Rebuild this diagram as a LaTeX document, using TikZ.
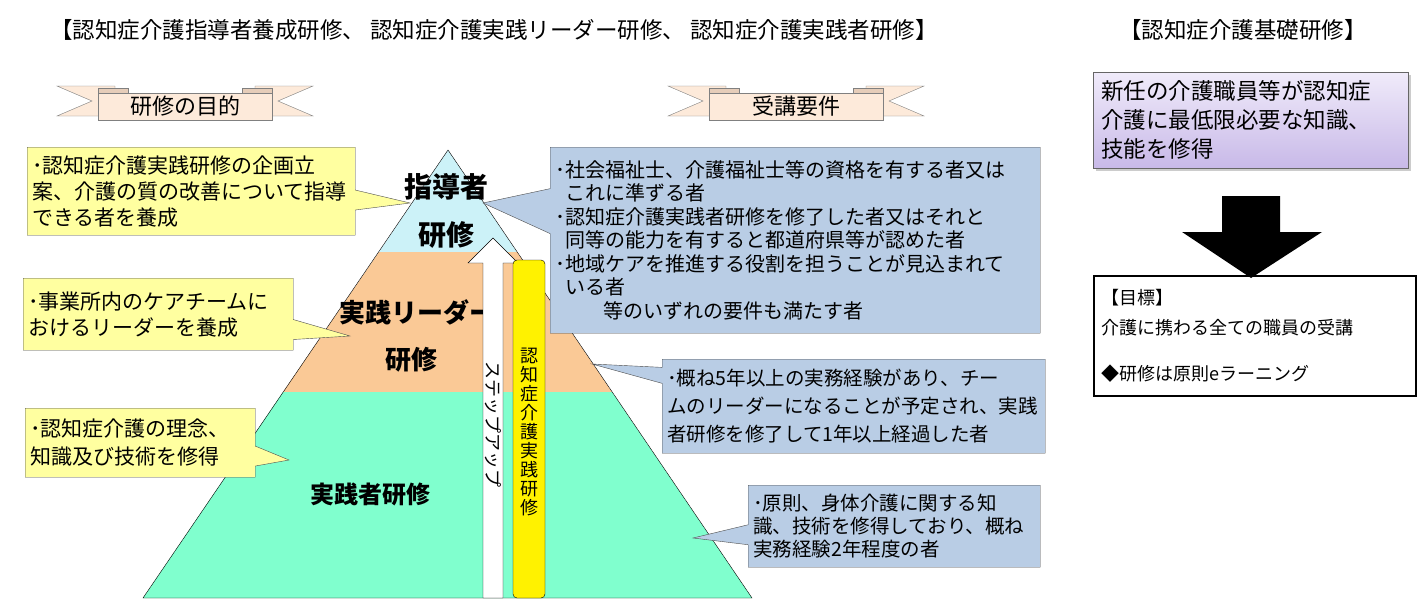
\documentclass[tikz,border=0pt]{standalone}
\usepackage{fontspec}
\setmainfont{Noto Sans CJK JP}
\usepackage{xcolor}
\usepackage{tikz}
\usetikzlibrary{shapes.callouts,shadows}

\definecolor{tiertop}{RGB}{204,242,248}
\definecolor{tiermid}{RGB}{250,201,150}
\definecolor{tierbase}{RGB}{128,255,206}
\definecolor{callyel}{RGB}{255,255,160}
\definecolor{callblue}{RGB}{185,205,229}
\definecolor{ribbonfill}{RGB}{253,234,218}
\definecolor{ribbonfold}{RGB}{230,205,185}
\definecolor{lavtop}{RGB}{240,235,250}
\definecolor{lavbot}{RGB}{200,185,232}

\begin{document}
\begin{tikzpicture}[x=1pt, y=-1pt,
    ycall/.style={rectangle callout, draw=black!70, fill=callyel, anchor=north west,
      align=left, inner sep=5pt, callout pointer width=20pt},
    bcall/.style={rectangle callout, draw=black!70, fill=callblue, anchor=north west,
      align=left, inner sep=5pt, callout pointer width=20pt},
    tier/.style={font=\bfseries\fontsize{27}{30}\selectfont}]
  \fill[white] (0,0) rectangle (1419,610);
  \useasboundingbox (0,0) rectangle (1419,610);

  % titles
  \node[font=\fontsize{22.5}{26}\selectfont] (title) at (494,30)
    {【認知症介護指導者養成研修、 認知症介護実践リーダー研修、 認知症介護実践者研修】};
  \node[font=\fontsize{22.5}{26}\selectfont] (basetitle) at (1243,30) {【認知症介護基礎研修】};

  % ribbons
  \foreach \cx/\lab in {185/研修の目的, 796/受講要件} {
    \draw[black!50, fill=ribbonfill] ({\cx-128},86) -- ({\cx-70},86) -- ({\cx-70},116)
      -- ({\cx-128},116) -- ({\cx-93},101) -- cycle;
    \draw[black!50, fill=ribbonfill] ({\cx+128},86) -- ({\cx+70},86) -- ({\cx+70},116)
      -- ({\cx+128},116) -- ({\cx+93},101) -- cycle;
    \draw[black!50, fill=ribbonfold] ({\cx-87},93) -- ({\cx-87},88) -- ({\cx-57},88) -- ({\cx-57},93);
    \draw[black!50, fill=ribbonfold] ({\cx+87},93) -- ({\cx+87},88) -- ({\cx+57},88) -- ({\cx+57},93);
    \draw[black!50, fill=ribbonfill] ({\cx-87},93) rectangle ({\cx+87},120);
    \node[font=\fontsize{22}{24}\selectfont] (rib\cx) at (\cx,106) {\lab};
  }

  % pyramid
  \coordinate (apex) at (448,150);
  \coordinate (bl) at (143,598);
  \coordinate (br) at (752,598);
  \fill[tiertop] (apex) -- (379,252) -- (517,252) -- cycle;
  \fill[tiermid] (379,252) -- (283,392) -- (612,392) -- (517,252) -- cycle;
  \fill[tierbase] (283,392) -- (bl) -- (br) -- (612,392) -- cycle;
  \draw (apex) -- (bl) -- (br) -- cycle;

  % callouts
  \coordinate (tip1) at (410,203);
  \coordinate (tip2) at (350,336);
  \coordinate (tip3) at (289,460);
  \coordinate (tip4) at (483,203);
  \coordinate (tip5) at (592,364);
  \coordinate (tip6) at (693,538);
  \node[ycall, callout absolute pointer={(tip1)}, minimum width=328, minimum height=88,
    text width=318, font=\fontsize{21}{26}\selectfont] (aim1) at (27,147)
    {･認知症介護実践研修の企画立\\案、介護の質の改善について指導\\できる者を養成};
  \node[ycall, callout absolute pointer={(tip2)}, minimum width=270, minimum height=72,
    text width=260, font=\fontsize{21}{26}\selectfont] (aim2) at (23,278)
    {･事業所内のケアチームに\\おけるリーダーを養成};
  \node[ycall, callout absolute pointer={(tip3)}, minimum width=230, minimum height=69,
    text width=220, font=\fontsize{21}{28}\selectfont] (aim3) at (25,408)
    {･認知症介護の理念、\\知識及び技術を修得};
  \node[bcall, callout absolute pointer={(tip4)}, callout pointer width=45pt,
    minimum width=490, minimum height=186, text width=480,
    font=\fontsize{20}{23.5}\selectfont] (req1) at (550,147)
    {･社会福祉士、介護福祉士等の資格を有する者又は\\\hspace{10pt}これに準ずる者\\
     ･認知症介護実践者研修を修了した者又はそれと\\\hspace{10pt}同等の能力を有すると都道府県等が認めた者\\
     ･地域ケアを推進する役割を担うことが見込まれて\\\hspace{10pt}いる者\\
     \hspace{48pt}等のいずれの要件も満たす者};
  \node[bcall, callout absolute pointer={(tip5)}, callout pointer width=16pt,
    minimum width=383, minimum height=94, text width=373,
    font=\fontsize{19.5}{28}\selectfont] (req2) at (662,359)
    {･概ね5年以上の実務経験があり、チー\\ムのリーダーになることが予定され、実践\\者研修を修了して1年以上経過した者};
  \node[bcall, callout absolute pointer={(tip6)}, minimum width=292, minimum height=82,
    text width=282, font=\fontsize{19.5}{23}\selectfont] (req3) at (748,485)
    {･原則、身体介護に関する知\\識、技術を修得しており、概ね\\実務経験2年程度の者};

  % tier labels
  \node[tier, font=\bfseries\fontsize{28}{30}\selectfont] (lead) at (446,187) {指導者};
  \node[tier, font=\bfseries\fontsize{28}{30}\selectfont] (leadb) at (446,235) {研修};
  \node[tier, font=\bfseries\fontsize{26}{30}\selectfont] (mid) at (417,312) {実践リーダー};
  \node[tier, font=\bfseries\fontsize{26}{30}\selectfont] (midb) at (411,360) {研修};
  \node[tier, font=\bfseries\fontsize{24}{30}\selectfont] (base) at (370,494) {実践者研修};

  % step-up arrow and practice bar
  \draw[fill=white] (483,598) -- (483,263) -- (468,263) -- (493,238) -- (518,263)
    -- (503,263) -- (503,598) -- cycle;
  \node[rotate=-90, font=\fontsize{18}{20}\selectfont] (stepup) at (493,424) {ステップアップ};
  \draw[fill=yellow, rounded corners=4pt] (513,260) rectangle (545,598);
  \node[align=center, font=\fontsize{18}{19}\selectfont] (practice) at (529,432)
    {認\\知\\症\\介\\護\\実\\践\\研\\修};

  % basic training
  \node[draw=black!60, top color=lavtop, bottom color=lavbot,
    drop shadow={shadow xshift=3pt, shadow yshift=-3pt, opacity=.4},
    anchor=north west, minimum width=315, minimum height=96, text width=299,
    inner sep=8pt, align=left, font=\fontsize{22.5}{29}\selectfont] (basic) at (1093,72)
    {新任の介護職員等が認知症\\介護に最低限必要な知識、\\技能を修得};
  \fill (1222,196) -- (1280,196) -- (1280,232) -- (1322,232) -- (1251,278)
    -- (1182,232) -- (1222,232) -- cycle;
  \node[draw, line width=1.5pt, anchor=north west, minimum width=322, minimum height=120,
    text width=306, inner sep=8pt, align=left, font=\fontsize{18}{30}\selectfont] (goal) at (1093,275)
    {【目標】\\介護に携わる全ての職員の受講\\[16pt]◆研修は原則eラーニング};
\end{tikzpicture}
\end{document}
